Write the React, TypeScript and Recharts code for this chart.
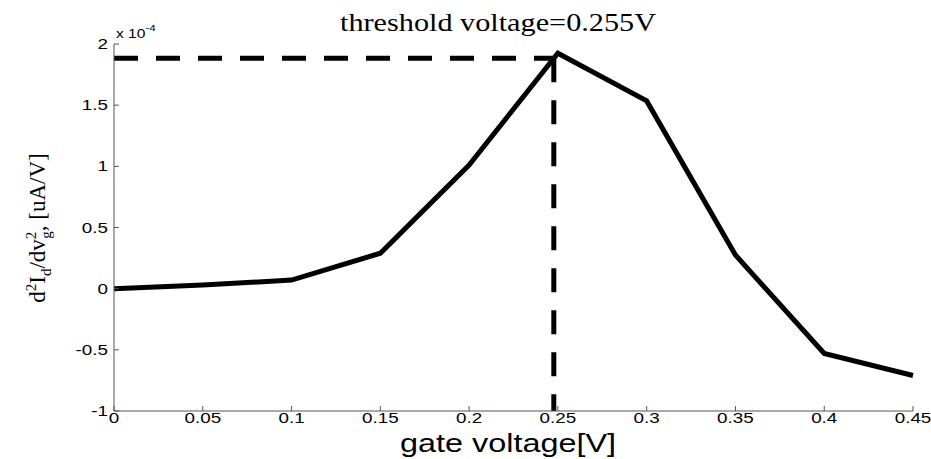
import React from 'react';
import { LineChart, Line, XAxis, YAxis, ReferenceLine } from 'recharts';

// gate voltage [V]
const gateVoltage = [0, 0.05, 0.1, 0.15, 0.2, 0.25, 0.3, 0.35, 0.4, 0.45];
// second derivative, in units of 1e-4
const d2Id = [0.0, 0.03, 0.07, 0.29, 1.01, 1.925, 1.535, 0.275, -0.53, -0.71];

const xTicks = [0, 0.05, 0.1, 0.15, 0.2, 0.25, 0.3, 0.35, 0.4, 0.45];
const yTicks = [-1, -0.5, 0, 0.5, 1, 1.5, 2];

// dashed marker for the threshold point
const thresholdX = 0.2477;
const thresholdY = 1.884;
const hSegment = [
  { x: 0, y: thresholdY },
  { x: thresholdX, y: thresholdY },
];
const vSegment = [
  { x: thresholdX, y: thresholdY },
  { x: thresholdX, y: -1 },
];

const data = gateVoltage.map((v, i) => ({ v, d: d2Id[i] }));

const AXIS = '#555';
const SANS = '"Liberation Sans", Arial, sans-serif';
const SERIF = '"Liberation Serif", "Times New Roman", serif';

function XTick({ x, y, payload }: any) {
  return (
    <g>
      <line x1={x} x2={x} y1={y} y2={y - 5} stroke={AXIS} />
      <text
        transform={`translate(${x},${y + 12}) scale(1.3,1)`}
        textAnchor="middle"
        fontSize={14.5}
        fontFamily={SANS}
        fill="#000"
      >
        {payload.value}
      </text>
    </g>
  );
}

function YTick({ x, y, payload }: any) {
  return (
    <g>
      <line x1={x} x2={x + 5} y1={y} y2={y} stroke={AXIS} />
      <text
        transform={`translate(${x - 6},${y + 5}) scale(1.3,1)`}
        textAnchor="end"
        fontSize={14.5}
        fontFamily={SANS}
        fill="#000"
      >
        {payload.value}
      </text>
    </g>
  );
}

export default function App() {
  return (
    <div style={{ position: 'absolute', left: 0, top: 0, width: 931, height: 459, background: '#fff' }}>
      <LineChart
        width={931}
        height={459}
        data={data}
        margin={{ top: 44, right: 18, bottom: 18, left: 0 }}
      >
        <XAxis
          dataKey="v"
          type="number"
          domain={[0, 0.45]}
          ticks={xTicks}
          height={30}
          tickSize={0}
          tickMargin={0}
          tickLine={false}
          axisLine={{ stroke: AXIS }}
          tick={<XTick />}
          interval={0}
        />
        <YAxis
          type="number"
          domain={[-1, 2]}
          ticks={yTicks}
          width={114}
          tickSize={0}
          tickMargin={0}
          tickLine={false}
          axisLine={{ stroke: AXIS }}
          tick={<YTick />}
          interval={0}
        />
        <ReferenceLine segment={hSegment} stroke="#000" strokeWidth={5} strokeDasharray="24 18" />
        <ReferenceLine segment={vSegment} stroke="#000" strokeWidth={5} strokeDasharray="24 18" />
        <Line
          dataKey="d"
          stroke="#000"
          strokeWidth={5}
          dot={false}
          type="linear"
          isAnimationActive={false}
        />
      </LineChart>
      <svg
        width={931}
        height={459}
        style={{ position: 'absolute', left: 0, top: 0, pointerEvents: 'none' }}
      >
        <text
          x={498}
          y={31}
          textAnchor="middle"
          fontFamily={SERIF}
          fontSize={26}
          textLength={316}
          lengthAdjust="spacingAndGlyphs"
        >
          threshold voltage=0.255V
        </text>
        <text
          x={508}
          y={452}
          textAnchor="middle"
          fontFamily={SANS}
          fontSize={26}
          textLength={216}
          lengthAdjust="spacingAndGlyphs"
        >
          gate voltage[V]
        </text>
        <text transform="translate(116,38) scale(1.3,1)" fontFamily={SANS} fontSize={12}>
          x 10
          <tspan fontSize={9} dy={-7}>-4</tspan>
        </text>
        <text
          transform="translate(45,228) rotate(-90)"
          textAnchor="middle"
          fontFamily={SERIF}
          fontSize={23}
        >
          d<tspan fontSize={15} dy={-9}>2</tspan>
          <tspan dy={9}>I</tspan>
          <tspan fontSize={15} dy={6}>d</tspan>
          <tspan dy={-6}>/dv</tspan>
          <tspan fontSize={15} dy={-9}>2</tspan>
          <tspan fontSize={15} dx={-7} dy={15}>g</tspan>
          <tspan dy={-6}>, [uA/V]</tspan>
        </text>
      </svg>
    </div>
  );
}
